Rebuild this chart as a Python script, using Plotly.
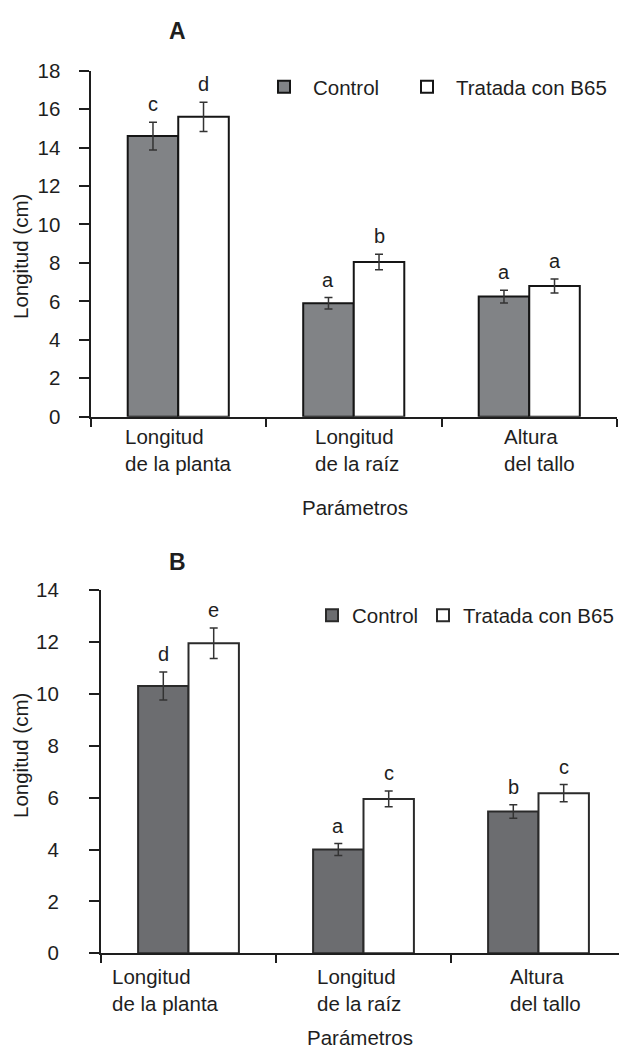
import plotly.graph_objects as go

# ---- data -----------------------------------------------------------------
etiquetas_x = ["Longitud<br>de la planta", "Longitud<br>de la raíz", "Altura<br>del tallo"]
series = ["Control", "Tratada con B65"]

# Panel A
a_control = [14.6, 5.9, 6.25]
a_control_err = [0.72, 0.30, 0.33]
a_tratada = [15.6, 8.05, 6.8]
a_tratada_err = [0.76, 0.40, 0.36]
a_letras_control = ["c", "a", "a"]
a_letras_tratada = ["d", "b", "a"]
a_yticks = [0, 2, 4, 6, 8, 10, 12, 14, 16, 18]

# Panel B
b_control = [10.3, 4.0, 5.46]
b_control_err = [0.54, 0.23, 0.26]
b_tratada = [11.95, 5.95, 6.17]
b_tratada_err = [0.59, 0.30, 0.33]
b_letras_control = ["d", "a", "b"]
b_letras_tratada = ["e", "c", "c"]
b_yticks = [0, 2, 4, 6, 8, 10, 12, 14]

# ---- style ------------------------------------------------------------------
W, H = 619, 1050
FONT = "Liberation Sans, Arial, sans-serif"
FS = 20.5
INK = "#1e1e1e"
BARGAP = 0.424
bar_w = (1 - BARGAP) / 2
pos = list(range(len(etiquetas_x)))


def py(px):
    """pixel row -> paper y"""
    return 1 - px / H


def px_(px):
    return px / W


fig = go.Figure()

panels = [
    dict(xa="x", ya="y", legends=("legend", "legend2"), ctrl=a_control, ctrl_e=a_control_err,
         trat=a_tratada, trat_e=a_tratada_err, lc=a_letras_control, lt=a_letras_tratada,
         fill="#818386", line="#151515"),
    dict(xa="x2", ya="y2", legends=("legend3", "legend4"), ctrl=b_control, ctrl_e=b_control_err,
         trat=b_tratada, trat_e=b_tratada_err, lc=b_letras_control, lt=b_letras_tratada,
         fill="#6c6d70", line="#2a2a2a"),
]

for p in panels:
    for name, vals, errs, fill, lg in [
        (series[0], p["ctrl"], p["ctrl_e"], p["fill"], p["legends"][0]),
        (series[1], p["trat"], p["trat_e"], "#ffffff", p["legends"][1]),
    ]:
        fig.add_trace(go.Bar(
            x=pos, y=vals, name=name, xaxis=p["xa"], yaxis=p["ya"], legend=lg,
            marker=dict(color=fill, line=dict(color=p["line"], width=2)),
            error_y=dict(type="data", array=errs, color="#333333", thickness=1.5, width=4),
        ))

annotations = []
for p in panels:
    for i in pos:
        for dx, vals, errs, letters in [
            (-bar_w / 2, p["ctrl"], p["ctrl_e"], p["lc"]),
            (bar_w / 2, p["trat"], p["trat_e"], p["lt"]),
        ]:
            annotations.append(dict(
                x=i + dx, y=vals[i] + errs[i], xref=p["xa"], yref=p["ya"],
                text=letters[i], showarrow=False, yanchor="bottom", yshift=5,
                font=dict(family=FONT, size=20, color=INK),
            ))

# category labels (left-aligned, two lines)
label_rows = [(423, [0, 3, 10], "x"), (963, [-23, -5, 7], "x2")]
for top, shifts, xa in label_rows:
    for i, txt in enumerate(etiquetas_x):
        annotations.append(dict(
            x=i, y=py(top), xref=xa, yref="paper", text=txt, showarrow=False,
            xanchor="center", yanchor="top", align="left", xshift=shifts[i],
            font=dict(family=FONT, size=FS, color=INK),
        ))

# axis titles and panel letters
for ycen, xcen, ytitle, letter, yl in [(507, 355, 257, "A", 31), (1037, 360, 756, "B", 562)]:
    annotations.append(dict(x=px_(xcen), y=py(ycen), xref="paper", yref="paper",
                            text="Parámetros", showarrow=False, xanchor="center", yanchor="middle",
                            font=dict(family=FONT, size=FS, color=INK)))
    annotations.append(dict(x=px_(20), y=py(ytitle), xref="paper", yref="paper",
                            text="Longitud (cm)", showarrow=False, textangle=-90,
                            xanchor="center", yanchor="middle",
                            font=dict(family=FONT, size=FS, color=INK)))
    annotations.append(dict(x=px_(177), y=py(yl), xref="paper", yref="paper",
                            text="<b>%s</b>" % letter, showarrow=False,
                            xanchor="center", yanchor="middle",
                            font=dict(family=FONT, size=23, color=INK)))

axis_common = dict(showline=True, linecolor=INK, linewidth=2, showgrid=False,
                   zeroline=False, ticks="outside", tickcolor=INK, tickwidth=2)


def legend_box(x_left, y_mid, itemwidth):
    return dict(orientation="h", x=px_(x_left), y=py(y_mid), xanchor="left", yanchor="middle",
                bgcolor="rgba(0,0,0,0)", font=dict(family=FONT, size=FS, color=INK),
                itemwidth=itemwidth)


fig.update_layout(
    width=W, height=H, margin=dict(l=0, r=0, t=0, b=0, autoexpand=False),
    paper_bgcolor="white", plot_bgcolor="white",
    barmode="group", bargap=BARGAP, bargroupgap=0,
    font=dict(family=FONT, size=FS, color=INK),
    xaxis=dict(domain=[px_(90.5), px_(617)], range=[-0.5, 2.5], anchor="y",
               tickvals=[-0.5, 0.5, 1.5, 2.5], ticklen=8, showticklabels=False, **axis_common),
    yaxis=dict(domain=[py(416.7), py(70.7)], range=[0, 18], anchor="x",
               tickvals=a_yticks, ticklen=10, ticklabelstandoff=14,
               tickfont=dict(family=FONT, size=FS, color=INK), **axis_common),
    xaxis2=dict(domain=[px_(101), 1], range=[-0.5, 2.46], anchor="y2",
                tickvals=[-0.5, 0.5, 1.5], ticklen=8, showticklabels=False, **axis_common),
    yaxis2=dict(domain=[py(953.3), py(590)], range=[0, 14], anchor="x2",
                tickvals=b_yticks, ticklen=10, ticklabelstandoff=26,
                tickfont=dict(family=FONT, size=FS, color=INK), **axis_common),
    legend=legend_box(255, 87, 48),
    legend2=legend_box(398, 87, 48),
    legend3=legend_box(312, 615.5, 30),
    legend4=legend_box(423, 615.5, 30),
    annotations=annotations,
    showlegend=True,
)

fig.write_html("out.html")
